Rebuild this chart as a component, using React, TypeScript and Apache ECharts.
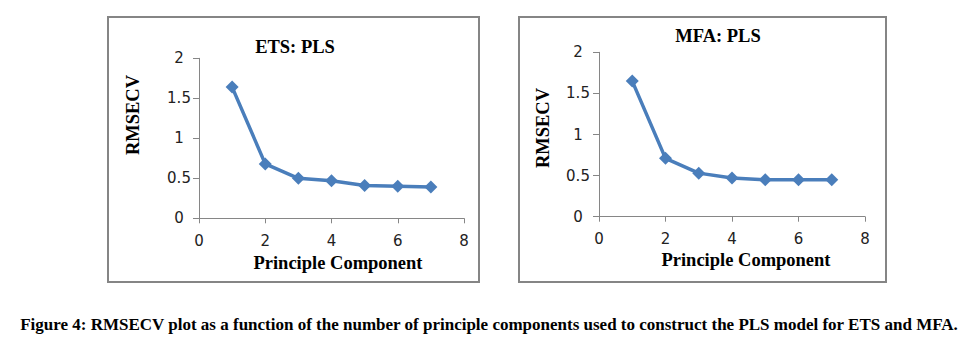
import React, { useEffect, useRef } from "react";
import * as echarts from "echarts";

const components = [1, 2, 3, 4, 5, 6, 7];
const etsValues = [1.64, 0.68, 0.5, 0.47, 0.41, 0.4, 0.39];
const mfaValues = [1.65, 0.71, 0.53, 0.47, 0.45, 0.45, 0.45];
const titles = ["ETS: PLS", "MFA: PLS"];
const yAxisTitle = "RMSECV";
const xAxisTitle = "Principle Component";
const caption =
  "Figure 4: RMSECV plot as a function of the number of principle components used to construct the PLS model for ETS and MFA.";

const serif = "'Liberation Serif', 'Times New Roman', serif";
const sans = "'DejaVu Sans', sans-serif";
const lineColor = "#4a7ebb";
const axisColor = "#868686";

export default function App() {
  const ref = useRef<HTMLDivElement>(null);
  useEffect(() => {
    if (!ref.current) return;
    const chart = echarts.init(ref.current, null, { renderer: "svg" });
    const grids = [
      { left: 199, top: 58.3, width: 265, height: 160 },
      { left: 599, top: 52.3, width: 266, height: 164.4 },
    ];
    const yMargins = [20, 21];
    const xAxes = grids.map((_, i) => ({
      type: "value",
      gridIndex: i,
      min: 0,
      max: 8,
      interval: 2,
      splitLine: { show: false },
      axisLine: { show: true, lineStyle: { color: axisColor, width: 1 } },
      axisTick: { show: true, length: 5, lineStyle: { color: axisColor } },
      axisLabel: { margin: 15, fontFamily: sans, fontSize: 15, color: "#222" },
    }));
    const yAxes = grids.map((_, i) => ({
      type: "value",
      gridIndex: i,
      min: 0,
      max: 2,
      interval: 0.5,
      splitLine: { show: false },
      axisLine: { show: true, lineStyle: { color: axisColor, width: 1 } },
      axisTick: { show: true, length: 6, lineStyle: { color: axisColor } },
      axisLabel: {
        margin: yMargins[i],
        align: "center",
        fontFamily: sans,
        fontSize: 15,
        color: "#222",
      },
    }));
    const mkSeries = (vals: number[], i: number) => ({
      type: "line",
      xAxisIndex: i,
      yAxisIndex: i,
      data: components.map((c, k) => [c, vals[k]]),
      symbol: "diamond",
      symbolSize: 13,
      lineStyle: { color: lineColor, width: 3.5 },
      itemStyle: { color: lineColor },
    });
    const titleStyle = {
      fontFamily: serif,
      fontWeight: "bold",
      fontSize: 18.5,
      fill: "#000",
      textAlign: "center",
      textVerticalAlign: "middle",
    };
    chart.setOption({
      animation: false,
      backgroundColor: "#fff",
      grid: grids,
      xAxis: xAxes,
      yAxis: yAxes,
      series: [mkSeries(etsValues, 0), mkSeries(mfaValues, 1)],
      graphic: [
        {
          type: "rect",
          shape: { x: 108, y: 17, width: 371, height: 265 },
          style: { fill: "none", stroke: "#858585", lineWidth: 2 },
          z: -1,
        },
        {
          type: "rect",
          shape: { x: 519, y: 17, width: 367, height: 265 },
          style: { fill: "none", stroke: "#858585", lineWidth: 2 },
          z: -1,
        },
        { type: "text", x: 295, y: 47, style: { ...titleStyle, text: titles[0] } },
        { type: "text", x: 718, y: 36, style: { ...titleStyle, text: titles[1] } },
        {
          type: "text",
          x: 133,
          y: 115,
          rotation: Math.PI / 2,
          style: { ...titleStyle, text: yAxisTitle },
        },
        {
          type: "text",
          x: 543,
          y: 128,
          rotation: Math.PI / 2,
          style: { ...titleStyle, text: yAxisTitle },
        },
        { type: "text", x: 338, y: 263, style: { ...titleStyle, text: xAxisTitle } },
        { type: "text", x: 746, y: 260, style: { ...titleStyle, text: xAxisTitle } },
        {
          type: "text",
          x: 489,
          y: 324,
          style: { ...titleStyle, fontSize: 17, text: caption },
        },
      ],
    });
    return () => chart.dispose();
  }, []);
  return (
    <div
      ref={ref}
      style={{ position: "absolute", left: 0, top: 0, width: 970, height: 352 }}
    />
  );
}
